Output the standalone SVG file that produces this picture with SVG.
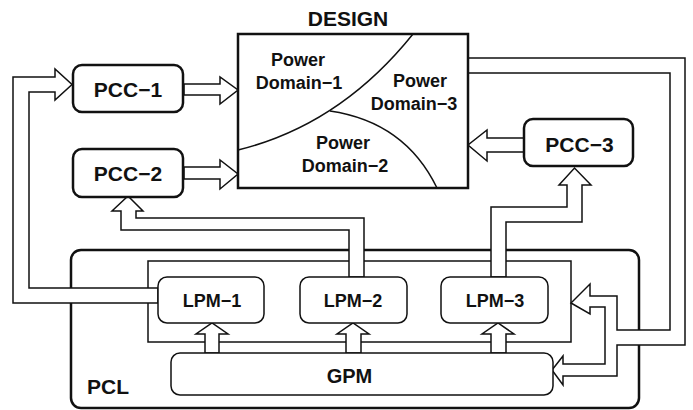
<svg xmlns="http://www.w3.org/2000/svg" width="693" height="410" viewBox="0 0 693 410">
<style>
text{font-family:"Liberation Sans",Arial,sans-serif;font-weight:bold;fill:#111;text-anchor:middle}
.big{font-size:21px}
.mid{font-size:18px}
.box{fill:#fff;stroke:#111;stroke-width:2.5}
.sbox{fill:#fff;stroke:#111;stroke-width:1.5}
.tube{fill:#fff;stroke:#111;stroke-width:1.5;stroke-linejoin:miter}
.thin{fill:none;stroke:#111;stroke-width:1.5}
</style>
<rect width="693" height="410" fill="#fff"/>
<g id="PCL">
<rect class="box" x="71" y="250" width="568" height="158" rx="10"/>
<rect class="thin" x="148" y="261" width="423" height="81"/>
<text class="big" x="87" y="394" style="text-anchor:start">PCL</text>
</g>
<g id="connectors">
<path class="tube" d="M468,58 H685 V345 H617 V376 H563 V385 L552,370 L563,356 V364 H605 V307 H590 V314 L571,303 L590,284 V296 H617 V330 H670 V73 H468 Z"/>
<path class="tube" d="M158,288 H29 V92 H55 V100 L72,84.5 L55,69 V77 H13 V303 H158 Z"/>
<path class="tube" d="M349,277 V230 H121 V211 H112 L128,196 L143,211 H136 V218 H364 V277 Z"/>
<path class="tube" d="M491,277 V207 H567 V185 H559 L574.5,168 L591,185 H582 V222 H506 V277 Z"/>
<path class="tube" d="M184,84 H220 V77 L238,90 L220,104 V95 H184 Z"/>
<path class="tube" d="M184,167 H220 V160 L238,174 L220,189 V179 H184 Z"/>
<path class="tube" d="M524,138 H487 V130 L468,145 L487,161 V152 H524 Z"/>
<path class="tube" d="M205,353 V334 H196 L212,323 L228,334 H219 V353 Z"/>
<path class="tube" d="M346,353 V334 H337 L353,323 L369,334 H361 V353 Z"/>
<path class="tube" d="M491,353 V334 H482 L498,323 L514,334 H506 V353 Z"/>
</g>
<g id="LPM-1">
<rect class="sbox" x="158" y="277" width="106" height="46" rx="9"/>
<text class="mid" x="212" y="307">LPM−1</text>
</g>
<g id="LPM-2">
<rect class="sbox" x="300" y="277" width="107" height="46" rx="9"/>
<text class="mid" x="353" y="307">LPM−2</text>
</g>
<g id="LPM-3">
<rect class="sbox" x="441" y="277" width="107" height="46" rx="9"/>
<text class="mid" x="495" y="307">LPM−3</text>
</g>
<g id="GPM">
<rect class="sbox" x="171" y="353" width="382" height="42" rx="9"/>
<text class="big" x="349.5" y="383" style="font-size:20px">GPM</text>
</g>
<g id="PCC-1">
<rect class="box" x="73" y="65" width="110" height="47" rx="9"/>
<text class="big" x="128" y="96.5">PCC−1</text>
</g>
<g id="PCC-2">
<rect class="box" x="73" y="149" width="110" height="48" rx="9"/>
<text class="big" x="128" y="181">PCC−2</text>
</g>
<g id="PCC-3">
<rect class="box" x="524" y="119" width="109" height="47" rx="9"/>
<text class="big" x="579.5" y="151.5">PCC−3</text>
</g>
<g id="DESIGN">
<text class="big" x="348" y="26">DESIGN</text>
<rect class="box" x="238" y="34" width="230" height="154" style="fill:none"/>
<path class="thin" d="M238,150 Q340,125 413,34"/>
<path class="thin" d="M330,111 Q405,122 437,188"/>
<text class="mid" x="298" y="66">Power</text>
<text class="mid" x="299" y="89">Domain−1</text>
<text class="mid" x="420" y="87">Power</text>
<text class="mid" x="414" y="110">Domain−3</text>
<text class="mid" x="343" y="149">Power</text>
<text class="mid" x="345" y="172">Domain−2</text>
</g>
</svg>
